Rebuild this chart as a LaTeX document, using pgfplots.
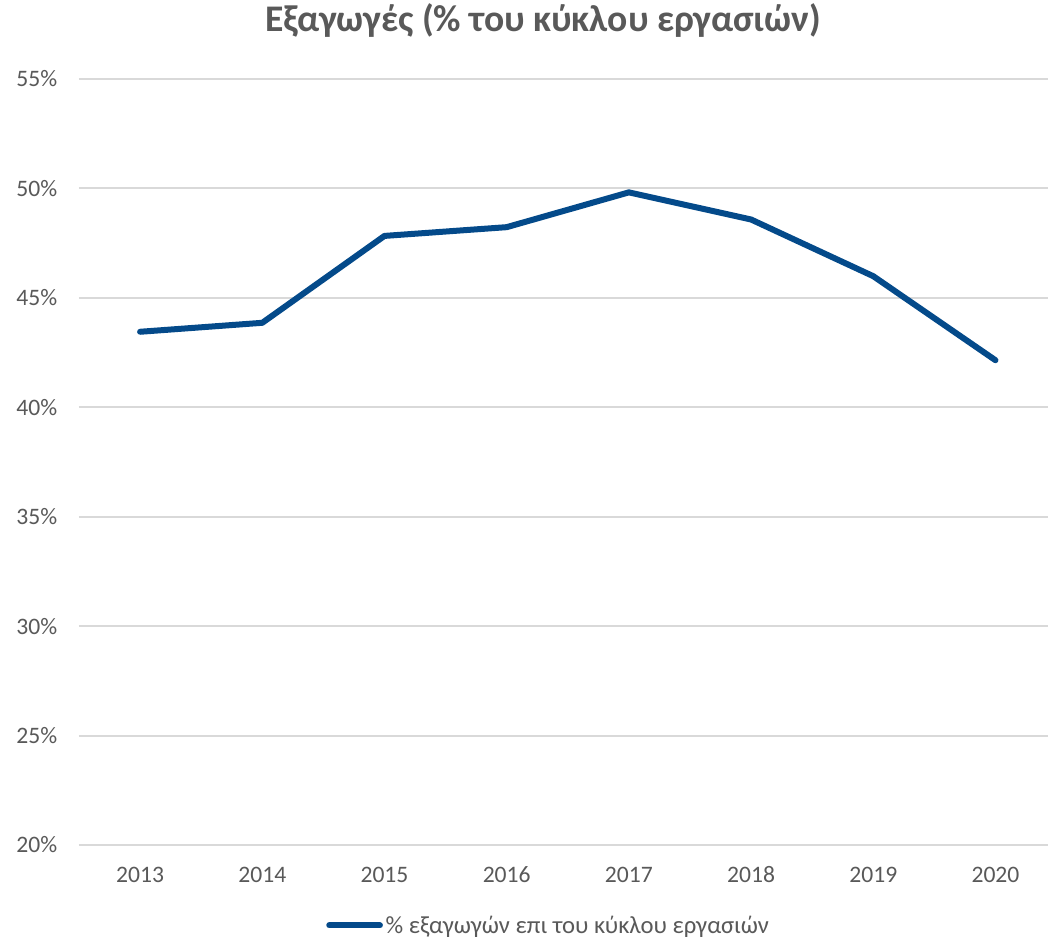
\documentclass[border=0pt]{standalone}
\usepackage{fontspec}
\setmainfont{Carlito}
\usepackage{pgfplots}
\pgfplotsset{compat=1.18}
\definecolor{lineblue}{RGB}{4,74,138}
\definecolor{txtgray}{RGB}{89,89,89}
\definecolor{gridgray}{RGB}{217,217,217}
\begin{document}
\begin{tikzpicture}[x=0.75pt,y=0.75pt]
\useasboundingbox (-79,-96) rectangle (969,845);
\begin{axis}[
  at={(0,0)}, anchor=south west,
  scale only axis,
  width=726.75pt, height=574.5pt,
  xmin=-0.5, xmax=7.43,
  ymin=20, ymax=55,
  xtick={0,...,7},
  xticklabels={2013,2014,2015,2016,2017,2018,2019,2020},
  ytick={20,25,30,35,40,45,50,55},
  yticklabels={20\%,25\%,30\%,35\%,40\%,45\%,50\%,55\%},
  ymajorgrids, major grid style={gridgray, line width=1.5pt},
  axis line style={draw=none},
  major tick length=0pt,
  tick label style={font=\fontsize{17.7}{20}\selectfont, text=txtgray},
  xticklabel style={anchor=base, yshift=-28pt},
  yticklabel style={xshift=-12.75pt},
  legend style={at={(axis description cs:0.485,-0.105)}, anchor=center, draw=none,
    font=\fontsize{18.5}{21}\selectfont, text=txtgray, inner sep=0pt},
  legend image code/.code={\draw[#1, line cap=round] (0pt,0pt) -- (38pt,0pt);},
  legend cell align=left,
  clip=false,
]
\addplot[lineblue, line width=4.5pt, line cap=round, line join=round] coordinates {
  (0,43.45) (1,43.86) (2,47.83) (3,48.23) (4,49.82) (5,48.58) (6,45.99) (7,42.15)
};
\addlegendentry{\% εξαγωγών επι του κύκλου εργασιών}
\end{axis}
\node[font=\bfseries\fontsize{28.2}{32}\selectfont, text=txtgray, anchor=base] at (464,813) {Εξαγωγές (\% του κύκλου εργασιών)};
\end{tikzpicture}
\end{document}
